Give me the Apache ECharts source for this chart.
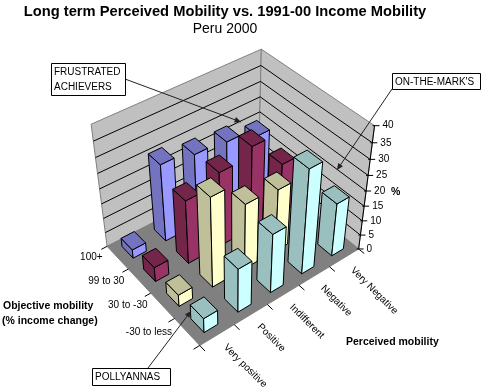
<!DOCTYPE html>
<html>
<head>
<meta charset="utf-8">
<title>Long term Perceived Mobility vs. 1991-00 Income Mobility</title>
<script src="https://cdn.jsdelivr.net/npm/echarts@6/dist/echarts.min.js"></script>
<style>
  html, body { margin: 0; padding: 0; background: #fff; }
  #chart { width: 483px; height: 390px; }
</style>
</head>
<body>
<div id="chart"></div>
<script>
// data, columns in order of perceived
var perceived = ['Very positive', 'Positive', 'Indifferent', 'Negative', 'Very Negative']
var objective = ['-30 to less', '30 to -30', '99 to 30', '100+']
var valueTicks = [0, 5, 10, 15, 20, 25, 30, 35, 40]
var rowLess30 = [5, 15, 20, 34.5, 18]
var rowMid30 = [4, 30, 22, 21, 15]
var row99to30 = [5, 21.5, 25, 28, 17]
var row100 = [3, 26, 24, 23, 20]

var rows = [rowLess30, rowMid30, row99to30, row100]
var faceColor = ['#CCFFFF', '#FFFFCC', '#993366', '#9999FF']
var sideColor = ['#99BFBF', '#BFBF99', '#732649', '#7373BF']
var barSizeU = 0.4
var barSizeV = 0.52
var zMax = valueTicks[valueTicks.length - 1]
var font = '"Liberation Sans", Arial, sans-serif'

// corners of the box on the page: [u, v, z, x, y]
var anchors = [
  [0, 0, 0, 200, 345],
  [1, 0, 0, 358, 250],
  [0, 1, 0, 107, 247],
  [1, 1, 0, 259, 167],
  [1, 0, 1, 375, 125],
  [0, 1, 1, 91, 124],
  [1, 1, 1, 261, 50]
]

// perspective matrix fitted to the corners (least squares)
function fitCamera(pts) {
  var A = [], i, j, k
  for (i = 0; i < 11; i++) {
    A.push([])
    for (j = 0; j < 12; j++) A[i].push(0)
  }
  function add(r, rhs) {
    for (var a = 0; a < 11; a++) {
      for (var b = 0; b < 11; b++) A[a][b] += r[a] * r[b]
      A[a][11] += r[a] * rhs
    }
  }
  pts.forEach(function(p) {
    var u = p[0], v = p[1], z = p[2], x = p[3], y = p[4]
    add([u, v, z, 1, 0, 0, 0, 0, -x * u, -x * v, -x * z], x)
    add([0, 0, 0, 0, u, v, z, 1, -y * u, -y * v, -y * z], y)
  })
  for (i = 0; i < 11; i++) {
    var best = i
    for (k = i + 1; k < 11; k++) if (Math.abs(A[k][i]) > Math.abs(A[best][i])) best = k
    var tmp = A[i]; A[i] = A[best]; A[best] = tmp
    for (k = 0; k < 11; k++) {
      if (k === i) continue
      var f = A[k][i] / A[i][i]
      for (j = i; j < 12; j++) A[k][j] -= f * A[i][j]
    }
  }
  return A.map(function(r, n) { return r[11] / r[n] })
}
var cam = fitCamera(anchors)

function project(u, v, z) {
  var w = cam[8] * u + cam[9] * v + cam[10] * z + 1
  return [
    (cam[0] * u + cam[1] * v + cam[2] * z + cam[3]) / w,
    (cam[4] * u + cam[5] * v + cam[6] * z + cam[7]) / w
  ]
}

function poly(points, fill, stroke) {
  return {
    type: 'polygon',
    shape: { points: points },
    style: { fill: fill, stroke: stroke, lineWidth: 1 }
  }
}
function seg(a, b, color) {
  return {
    type: 'line',
    shape: { x1: a[0], y1: a[1], x2: b[0], y2: b[1] },
    style: { stroke: color, lineWidth: 1 }
  }
}
function label(text, x, y, align, rotation, size, weight) {
  return {
    type: 'text',
    x: x,
    y: y,
    rotation: rotation || 0,
    style: {
      text: text,
      fill: '#000',
      align: align,
      verticalAlign: 'middle',
      font: (weight || 'normal') + ' ' + (size || 10) + 'px ' + font
    }
  }
}

// walls, floor, gridlines, ticks and tick labels
function renderFrame(params, api) {
  var cs = params.coordSys
  function zOf(val) { return 1 - (api.coord([0, val])[1] - cs.y) / cs.height }
  function uOf(col) { return (api.coord([col, 0])[0] - cs.x) / cs.width }
  var kids = []
  kids.push(poly([project(0, 1, 0), project(1, 1, 0), project(1, 1, 1), project(0, 1, 1)], '#C0C0C0', '#808080'))
  kids.push(poly([project(1, 1, 0), project(1, 0, 0), project(1, 0, 1), project(1, 1, 1)], '#C0C0C0', '#808080'))
  kids.push(poly([project(0, 0, 0), project(1, 0, 0), project(1, 1, 0), project(0, 1, 0)], '#808080', '#808080'))
  valueTicks.forEach(function(t) {
    var z = zOf(t)
    if (t > 0 && t < zMax) {
      kids.push(seg(project(0, 1, z), project(1, 1, z), '#000'))
      kids.push(seg(project(1, 1, z), project(1, 0, z), '#000'))
    }
    var p = project(1, 0, z)
    kids.push(seg([p[0] - 2, p[1]], [p[0] + 5, p[1]], '#000'))
    kids.push(label(String(t), p[0] + 8, p[1], 'left'))
  })
  kids.push(seg(project(1, 0, 0), project(1, 0, 1), '#000'))
  var i
  for (i = 0; i <= perceived.length; i++) {
    kids.push(seg(project(uOf(i), 0, 0), project(uOf(i), -0.05, 0), '#000'))
  }
  for (i = 0; i <= objective.length; i++) {
    var v = i / objective.length
    kids.push(seg(project(0, v, 0), project(-0.035, v, 0), '#000'))
  }
  perceived.forEach(function(name, n) {
    var p = project(uOf(n + 0.5), 0, 0)
    kids.push(label(name, p[0] + 8, p[1] + 11, 'left', -Math.PI / 4, 10))
  })
  objective.forEach(function(name, n) {
    var p = project(0, (n + 0.5) / objective.length, 0)
    kids.push(label(name, p[0] - 15, p[1], 'right'))
  })
  return { type: 'group', children: kids }
}

// one bar: the two faces turned to the viewer and the top
function renderBar(params, api) {
  var cs = params.coordSys
  var col = api.value(0), row = api.value(1), val = api.value(2)
  var uMin = (api.coord([col + 0.5 - barSizeU / 2, 0])[0] - cs.x) / cs.width
  var uMax = (api.coord([col + 0.5 + barSizeU / 2, 0])[0] - cs.x) / cs.width
  var vMin = (row + 0.5 - barSizeV / 2) / objective.length
  var vMax = (row + 0.5 + barSizeV / 2) / objective.length
  var z = 1 - (api.coord([0, val])[1] - cs.y) / cs.height
  return {
    type: 'group',
    children: [
      poly([project(uMin, vMax, 0), project(uMin, vMin, 0), project(uMin, vMin, z), project(uMin, vMax, z)], sideColor[row], '#000'),
      poly([project(uMin, vMin, 0), project(uMax, vMin, 0), project(uMax, vMin, z), project(uMin, vMin, z)], faceColor[row], '#000'),
      poly([project(uMin, vMin, z), project(uMax, vMin, z), project(uMax, vMax, z), project(uMin, vMax, z)], sideColor[row], '#000')
    ]
  }
}

// farthest bars first so the near ones cover them
var barData = []
for (var r = rows.length - 1; r >= 0; r--) {
  for (var c = perceived.length - 1; c >= 0; c--) {
    barData.push([c, r, rows[r][c]])
  }
}

function callout(lines, x, y, w, h) {
  var els = [{
    type: 'rect',
    shape: { x: x + 0.5, y: y + 0.5, width: w, height: h },
    style: { fill: '#fff', stroke: '#000', lineWidth: 1 },
    z: 20
  }]
  lines.forEach(function(t, n) {
    els.push({
      type: 'text',
      x: x + 3,
      y: y + 9 + n * 15,
      z: 21,
      style: { text: t, fill: '#000', font: '10px ' + font, verticalAlign: 'middle' }
    })
  })
  return els
}
function arrow(x1, y1, x2, y2) {
  var a = Math.atan2(y2 - y1, x2 - x1)
  var s = 7, d = 0.42
  return [{
    type: 'line',
    shape: { x1: x1, y1: y1, x2: x2, y2: y2 },
    style: { stroke: '#222', lineWidth: 1 },
    z: 19
  }, {
    type: 'polygon',
    shape: { points: [[x2, y2], [x2 - s * Math.cos(a - d), y2 - s * Math.sin(a - d)], [x2 - s * Math.cos(a + d), y2 - s * Math.sin(a + d)]] },
    style: { fill: '#222' },
    z: 19
  }]
}
function plainText(t, x, y, weight, align) {
  return {
    type: 'text',
    x: x,
    y: y,
    z: 21,
    style: { text: t, fill: '#000', align: align || 'left', verticalAlign: 'middle', font: weight + ' 10.5px ' + font }
  }
}

var chart = echarts.init(document.getElementById('chart'))
chart.setOption({
  animation: false,
  backgroundColor: '#fff',
  title: {
    text: 'Long term Perceived Mobility vs. 1991-00 Income Mobility',
    subtext: 'Peru 2000',
    left: 225,
    top: 4,
    padding: 0,
    textAlign: 'center',
    itemGap: 3,
    textStyle: { fontFamily: 'Liberation Sans', fontSize: 14.7, fontWeight: 'bold', color: '#000' },
    subtextStyle: { fontFamily: 'Liberation Sans', fontSize: 14, color: '#000' }
  },
  grid: { left: 0, right: 0, top: 0, bottom: 0 },
  xAxis: { type: 'value', min: 0, max: perceived.length, show: false },
  yAxis: { type: 'value', min: 0, max: zMax, show: false },
  series: [
    { type: 'custom', silent: true, clip: false, data: [[0, 0]], renderItem: renderFrame, z: 1 },
    { type: 'custom', silent: true, clip: false, data: barData, encode: { x: 0, y: 2 }, renderItem: renderBar, z: 2 }
  ],
  graphic: [].concat(
    arrow(125, 79, 241, 122),
    arrow(392, 89, 337, 170),
    arrow(148, 368, 191, 311),
    callout(['FRUSTRATED', 'ACHIEVERS'], 51, 63, 74, 32),
    callout(["ON-THE-MARK'S"], 392, 73, 88, 16),
    callout(['POLLYANNAS'], 92, 368, 78, 17),
    plainText('Objective mobility', 3, 306, 'bold'),
    plainText('(% income change)', 2, 321, 'bold'),
    plainText('Perceived mobility', 346, 342, 'bold'),
    plainText('%', 391, 192, 'bold')
  )
})
</script>
</body>
</html>
